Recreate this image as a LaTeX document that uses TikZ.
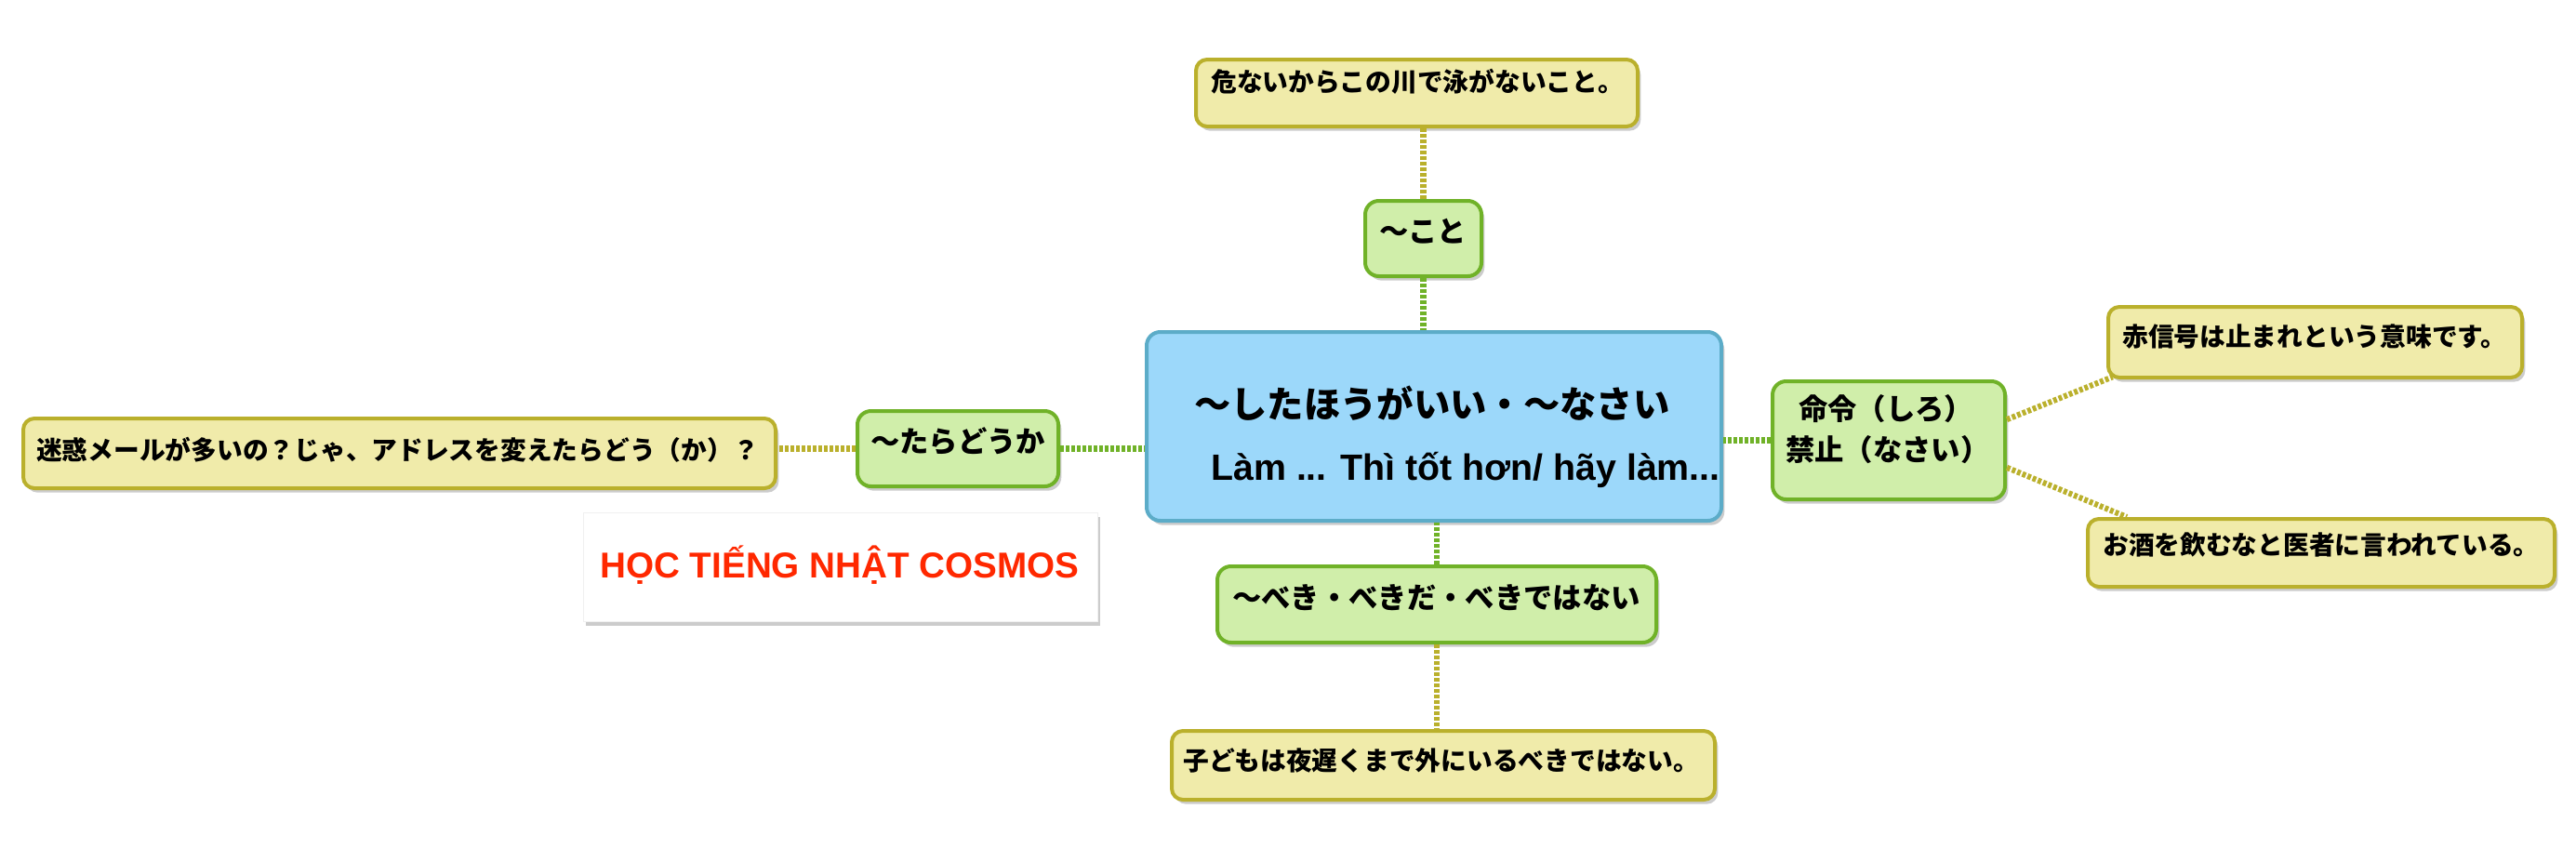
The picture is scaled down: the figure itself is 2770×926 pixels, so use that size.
\documentclass[tikz,border=0pt]{standalone}
\usepackage{fontspec}
\setmainfont{Liberation Sans}
\newfontfamily\jpfont{Noto Sans CJK JP}
\usepackage{tikz}
\usetikzlibrary{positioning}
\usetikzlibrary{fit,shadows}

\definecolor{boxyellow}{RGB}{240,235,170}
\definecolor{lineyellow}{RGB}{186,176,44}
\definecolor{boxgreen}{RGB}{208,238,170}
\definecolor{linegreen}{RGB}{112,178,40}
\definecolor{boxblue}{RGB}{156,216,250}
\definecolor{lineblue}{RGB}{92,172,200}
\definecolor{logored}{RGB}{255,40,0}

\begin{document}
\begin{tikzpicture}[x=0.75pt,y=0.75pt,yscale=-1,xscale=1,
  boxshadow/.style={drop shadow={shadow xshift=2.5pt,shadow yshift=-3.5pt,opacity=0.2,fill=black}},
  ybox/.style={draw=lineyellow,fill=boxyellow,line width=3pt,rounded corners=9pt,inner sep=0pt,boxshadow},
  gbox/.style={draw=linegreen,fill=boxgreen,line width=3pt,rounded corners=11pt,inner sep=0pt,boxshadow},
  bbox/.style={draw=lineblue,fill=boxblue,line width=3pt,rounded corners=11pt,inner sep=0pt,boxshadow},
  ytext/.style={inner sep=0pt,font=\jpfont\bfseries\fontsize{20.8}{24}\selectfont},
  gtext/.style={inner sep=0pt,font=\jpfont\bfseries\fontsize{23.5}{33}\selectfont},
  gline/.style={draw=linegreen,line width=4.6pt,dash pattern=on 2.9pt off 1.6pt},
  yline/.style={draw=lineyellow,line width=4.6pt,dash pattern=on 2.9pt off 1.6pt}]
\useasboundingbox (0,0) rectangle (2770,926);

% Boxes
\node [bbox, fit={(1233,357) (1851,560)}] (main) {};
\node [gbox, fit={(1468,216) (1593,297)}] (koto) {};
\node [ybox, fit={(1286,64) (1761,136)}] (kotoex) {};
\node [gbox, fit={(1906,410) (2156,537)}] (meirei) {};
\node [ybox, fit={(2267,330) (2712,406)}] (aka) {};
\node [ybox, fit={(2245,558) (2747,631)}] (osake) {};
\node [gbox, fit={(1309,609) (1781,691)}] (beki) {};
\node [ybox, fit={(1260,786) (1844,860)}] (kodomo) {};
\node [gbox, fit={(922,442) (1138,523)}] (tara) {};
\node [ybox, fit={(25,450) (834,525)}] (meiwaku) {};
\node [fill=white, draw=black!6, inner sep=0pt, boxshadow, fit={(627,551) (1180,668)}] (logo) {};

% Text Node
\node [anchor=west, inner sep=0pt, align=left, font=\bfseries\fontsize{29.5}{50}\selectfont] (maintext) at (1284,469.5)
  {{\jpfont 〜したほうがいい・〜なさい}\\\hspace*{13.5pt}Làm ... Thì tốt hơn/ hãy làm...};
% Text Node
\node [gtext] (kototext) at (1530,249) {〜こと};
% Text Node
\node [ytext, anchor=west] (kotoextext) at (1302,88) {危ないからこの川で泳がないこと。};
% Text Node
\node [gtext, anchor=west, align=left] (meireitext) at (1920,462) {\hspace*{10.5pt}命令（しろ）\\禁止（なさい）};
% Text Node
\node [ytext, anchor=west] (akatext) at (2282,362) {赤信号は止まれという意味です。};
% Text Node
\node [ytext, anchor=west] (osaketext) at (2261,586) {お酒を飲むなと医者に言われている。};
% Text Node
\node [gtext, anchor=west] (bekitext) at (1325,643) {〜べき・べきだ・べきではない};
% Text Node
\node [ytext, anchor=west] (kodomotext) at (1272,818) {子どもは夜遅くまで外にいるべきではない。};
% Text Node
\node [gtext, anchor=west] (taratext) at (936,475) {〜たらどうか};
% Text Node
\node [ytext, anchor=west] (meiwakutext) at (39,484) {迷惑メールが多いの？じゃ、アドレスを変えたらどう（か）？};
% Text Node
\node [inner sep=0pt, text=logored, font=\bfseries\fontsize{29}{34}\selectfont] (logotext) at (903,608) {HỌC TIẾNG NHẬT COSMOS};

% Connection
\draw [gline] (koto.south) -- (koto.south |- main.north);
% Connection
\draw [yline] (koto.north) -- (koto.north |- kotoex.south);
% Connection
\draw [gline] (tara.east) -- (tara.east -| main.west);
% Connection
\draw [yline] (tara.west) -- (tara.west -| meiwaku.east);
% Connection
\draw [gline] (meirei.west) -- (meirei.west -| main.east);
% Connection
\draw [yline] (meirei.10) -- ([xshift=5pt,yshift=-2pt]aka.south west);
% Connection
\draw [yline] (meirei.-13) -- ([xshift=33pt]osake.north west);
% Connection
\draw [gline] (beki.north) -- (beki.north |- main.south);
% Connection
\draw [yline] (beki.south) -- (beki.south |- kodomo.north);

\end{tikzpicture}
\end{document}
